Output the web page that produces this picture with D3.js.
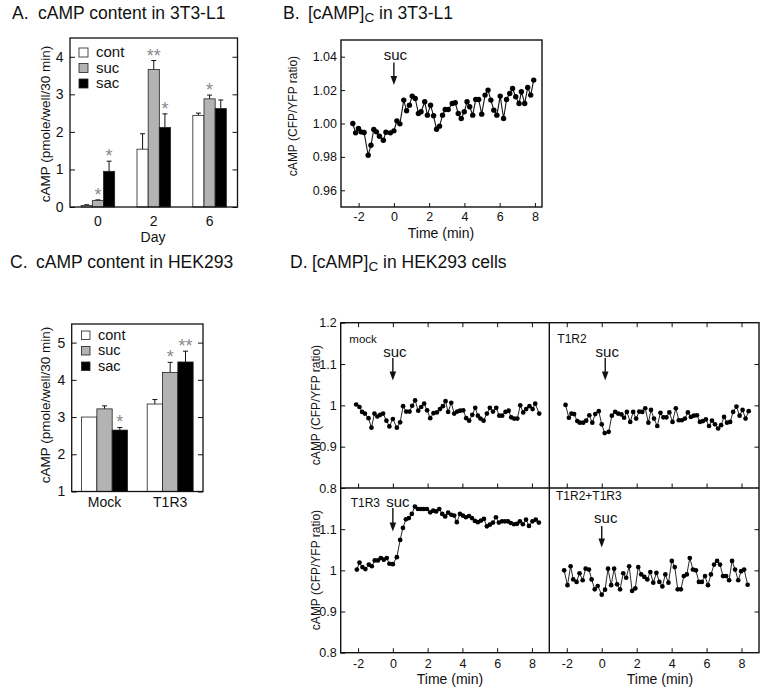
<!DOCTYPE html>
<html><head><meta charset="utf-8">
<script src="https://cdn.jsdelivr.net/npm/d3@7"></script>
<style>
body{margin:0;background:#fff}
text{font-family:"Liberation Sans",Arial,Helvetica,sans-serif;fill:#111}
</style>
</head><body>
<svg id="c" width="763" height="692"></svg>
<script>
// ---------------- DATA ----------------
const seriesNames = ["cont","suc","sac"];
const seriesColors = ["#ffffff","#b3b3b3","#000000"];

// Panel A (3T3-L1 cAMP content)
const daysA = ["0","2","6"];
const contA = [0.04, 1.54, 2.44];
const sucA  = [0.17, 3.66, 2.88];
const sacA  = [0.95, 2.12, 2.62];
const contAErr = [0.02, 0.41, 0.06];
const sucAErr  = [0.02, 0.24, 0.10];
const sacAErr  = [0.27, 0.36, 0.23];
const sucAStars = ["*","**","*"];
const sacAStars = ["*","*",""];
const contAStars = ["","",""];
const yTicksA = [0,1,2,3,4];

// Panel C (HEK293 cAMP content)
const groupsC = ["Mock","T1R3"];
const contC = [3.00, 3.35];
const sucC  = [3.22, 4.20];
const sacC  = [2.65, 4.48];
const contCErr = [0.0, 0.12];
const sucCErr  = [0.08, 0.27];
const sacCErr  = [0.07, 0.29];
const contCStars = ["",""];
const sucCStars  = ["","*"];
const sacCStars  = ["*","**"];
const yTicksC = [1,2,3,4,5];

// Panel B (3T3-L1 time course)
const bTime = [-2.33,-2.17,-2.01,-1.86,-1.69,-1.46,-1.30,-1.14,-0.99,-0.82,-0.60,-0.45,-0.20,0.00,0.17,0.34,0.56,0.72,0.88,1.04,1.21,1.39,1.54,1.75,1.90,2.08,2.25,2.42,2.59,2.76,2.91,3.08,3.31,3.48,3.65,3.82,3.99,4.15,4.30,4.47,4.64,4.81,4.98,5.17,5.34,5.50,5.67,5.84,6.03,6.22,6.39,6.57,6.73,6.91,7.10,7.23,7.42,7.59,7.76,7.93];
const bRatio = [1.000,0.9944,0.997,0.995,0.9946,0.981,0.987,0.9964,0.995,0.9924,0.990,0.9948,0.9944,0.9956,1.0016,0.9998,1.014,1.0076,1.011,1.0164,1.015,1.006,1.007,1.013,1.005,1.011,1.0046,0.9966,0.9984,1.005,1.0084,1.0084,1.012,1.0124,1.006,1.003,1.007,1.013,1.010,1.005,1.0144,1.0144,1.0056,1.017,1.020,1.014,1.008,1.005,1.0164,1.003,1.0144,1.018,1.021,1.016,1.012,1.019,1.012,1.0216,1.017,1.026];
const xTicksB = [-2,0,2,4,6,8];
const yTicksB = [0.96,0.98,1.00,1.02,1.04];

// Panel D (HEK293 time courses)
const mockTime = [-2.11,-1.92,-1.77,-1.61,-1.40,-1.23,-1.06,-0.89,-0.73,-0.56,-0.37,-0.20,0,0.23,0.42,0.59,0.77,0.96,1.11,1.28,1.46,1.63,1.80,1.97,2.15,2.34,2.53,2.71,2.88,3.03,3.18,3.36,3.53,3.70,3.87,4.05,4.22,4.39,4.57,4.74,4.89,5.04,5.22,5.41,5.58,5.76,5.95,6.12,6.29,6.48,6.66,6.81,6.98,7.16,7.33,7.50,7.67,7.86,8.04,8.19,8.42];
const mockRatio = [1.002,0.996,0.984,0.980,0.969,0.946,0.980,0.973,0.977,0.980,0.963,0.949,0.967,0.946,0.959,0.998,0.985,0.985,0.999,1.012,0.987,0.996,1.004,0.988,0.969,0.981,0.983,0.991,0.998,1.010,0.984,1.006,0.980,0.985,0.987,0.988,0.969,0.963,0.977,0.994,0.975,0.968,0.963,0.980,0.994,0.985,0.994,0.975,0.975,0.984,0.987,0.971,0.968,0.968,1.000,0.983,0.991,0.998,0.991,1.004,0.980];
const t1r2Time = [-2.07,-1.88,-1.73,-1.58,-1.40,-1.25,-1.06,-0.89,-0.71,-0.54,-0.37,-0.17,0,0.17,0.40,0.58,0.77,0.94,1.13,1.28,1.44,1.63,1.80,1.97,2.15,2.32,2.49,2.67,2.82,2.99,3.18,3.36,3.53,3.70,3.87,4.05,4.24,4.41,4.58,4.76,4.93,5.10,5.27,5.45,5.62,5.79,5.96,6.14,6.31,6.48,6.66,6.83,7.00,7.17,7.35,7.52,7.71,7.89,8.06,8.23,8.41];
const t1r2Ratio = [1.001,0.970,0.980,0.979,0.962,0.958,0.958,0.963,0.976,0.958,0.979,0.986,0.954,0.933,0.936,0.975,0.984,0.980,0.978,0.970,0.984,0.960,0.984,0.968,0.985,0.984,0.993,0.958,0.989,0.968,0.950,0.982,0.971,0.971,0.983,0.960,0.993,0.964,0.964,0.968,0.983,0.972,0.975,0.976,0.960,0.962,0.966,0.950,0.963,0.954,0.944,0.952,0.972,0.958,0.960,0.984,0.997,0.975,0.989,0.968,0.986];
const t1r3Time = [-2.07,-1.92,-1.75,-1.58,-1.38,-1.21,-1.04,-0.86,-0.69,-0.52,-0.35,-0.20,0,0.23,0.42,0.58,0.75,0.92,1.09,1.27,1.44,1.61,1.78,1.96,2.15,2.32,2.49,2.67,2.84,3.01,3.18,3.36,3.53,3.68,3.86,4.03,4.20,4.38,4.55,4.72,4.89,5.07,5.24,5.41,5.58,5.76,5.93,6.10,6.28,6.45,6.62,6.79,6.97,7.14,7.31,7.48,7.66,7.83,8.03,8.22,8.40];
const t1r3Ratio = [1.002,1.019,1.008,1.003,1.014,1.010,1.024,1.024,1.030,1.026,1.030,1.016,1.015,1.032,1.074,1.103,1.124,1.127,1.137,1.155,1.149,1.149,1.149,1.149,1.141,1.145,1.143,1.149,1.137,1.131,1.140,1.135,1.133,1.117,1.137,1.133,1.129,1.132,1.127,1.120,1.117,1.121,1.125,1.107,1.111,1.116,1.129,1.116,1.119,1.119,1.119,1.115,1.112,1.113,1.119,1.112,1.123,1.108,1.119,1.123,1.116];
const bothTime = [-2.15,-1.96,-1.78,-1.63,-1.44,-1.27,-1.09,-0.92,-0.73,-0.58,-0.40,-0.23,0,0.19,0.36,0.54,0.71,0.88,1.05,1.23,1.40,1.57,1.74,1.92,2.09,2.26,2.44,2.61,2.78,2.95,3.13,3.30,3.47,3.64,3.82,4.01,4.18,4.35,4.53,4.70,4.87,5.04,5.22,5.39,5.56,5.73,5.91,6.08,6.25,6.43,6.60,6.77,6.94,7.12,7.29,7.46,7.63,7.81,7.98,8.15,8.35];
const bothRatio = [1.000,0.964,1.010,0.978,0.972,0.993,0.976,1.004,1.002,0.978,0.954,0.962,0.941,0.953,1.004,0.964,1.004,0.966,0.954,0.993,0.982,1.010,0.950,0.956,1.008,0.990,0.984,0.978,0.996,0.970,0.994,0.972,0.961,0.990,0.970,1.023,1.008,0.954,0.954,0.986,0.990,1.030,1.002,1.000,0.972,0.972,0.986,0.964,0.990,1.014,1.023,1.014,0.986,0.986,0.976,1.023,1.002,0.976,0.998,1.002,0.965];
const xTicksD = [-2,0,2,4,6,8];
const yTicksD = [0.8,0.9,1,1.1,1.2];
const yTicksDLower = [0.9,1,1.1];

// ---------------- DRAWING ----------------
const svg = d3.select("#c");
svg.append("rect").attr("width",763).attr("height",692).attr("fill","#fff");
const FONT = '"Liberation Sans",Arial,Helvetica,sans-serif';

function styleAxis(g, fs){
  g.select(".domain").remove();
  g.selectAll("line").attr("stroke","#111").attr("stroke-width",1);
  g.selectAll("text").attr("font-size",fs).attr("font-family",FONT).attr("fill","#111");
}
function frame(x0,y0,x1,y1,sw){
  svg.append("rect").attr("x",x0).attr("y",y0).attr("width",x1-x0).attr("height",y1-y0)
    .attr("fill","none").attr("stroke","#111").attr("stroke-width",sw);
}
function arrow(x,yTop,yBot){
  svg.append("line").attr("x1",x).attr("x2",x).attr("y1",yTop).attr("y2",yBot-7)
    .attr("stroke","#111").attr("stroke-width",1.4);
  svg.append("path").attr("d",`M${x-3.3},${yBot-9}L${x+3.3},${yBot-9}L${x},${yBot}Z`).attr("fill","#111");
}
function label(x,y,str,fs,anchor){
  return svg.append("text").attr("x",x).attr("y",y).attr("font-size",fs)
    .attr("text-anchor",anchor||"start").text(str);
}
function vlabel(x,y,str,fs){
  svg.append("text").attr("transform",`translate(${x},${y}) rotate(-90)`)
    .attr("text-anchor","middle").attr("dominant-baseline","central")
    .attr("font-size",fs).text(str);
}

// ---- bar panel helper ----
function barPanel(cfg){
  const {x0,x1,y0,y1,groups,vals,errs,stars,yDom,yTicks,pi,po,legendY,legendX,legendSq,legendFs,xLabelPad} = cfg;
  const x = d3.scaleBand().domain(groups).range([x0,x1]).paddingInner(pi).paddingOuter(po);
  const xs = d3.scaleBand().domain(seriesNames).range([0,x.bandwidth()]);
  const y = d3.scaleLinear().domain(yDom).range([y1,y0]);
  seriesNames.forEach((s,si)=>{
    groups.forEach((gname,gi)=>{
      const v = vals[si][gi], e = errs[si][gi];
      const bx = x(gname)+xs(s), bw = xs.bandwidth(), cx = bx+bw/2;
      if(e>0){
        svg.append("line").attr("x1",cx).attr("x2",cx).attr("y1",y(v)).attr("y2",y(v+e))
          .attr("stroke","#111").attr("stroke-width",1);
        svg.append("line").attr("x1",cx-2.5).attr("x2",cx+2.5).attr("y1",y(v+e)).attr("y2",y(v+e))
          .attr("stroke","#111").attr("stroke-width",1);
      }
      svg.append("rect").attr("x",bx).attr("y",y(v)).attr("width",bw).attr("height",y(yDom[0])-y(v))
        .attr("fill",seriesColors[si]).attr("stroke","#222").attr("stroke-width",0.8);
      const st = stars[si][gi];
      if(st){
        svg.append("text").attr("x",cx).attr("y",y(v+e)+1).attr("text-anchor","middle")
          .attr("font-size",18).style("fill","#8a8a8a").text(st);
      }
    });
  });
  const gl = svg.append("g").attr("transform",`translate(${x0},0)`)
    .call(d3.axisLeft(y).tickValues(yTicks).tickSize(-5).tickPadding(6.5).tickFormat(d3.format("d")));
  styleAxis(gl,14);
  const gr = svg.append("g").attr("transform",`translate(${x1},0)`)
    .call(d3.axisRight(y).tickValues(yTicks).tickSize(-5).tickFormat(""));
  styleAxis(gr,14);
  const gb = svg.append("g").attr("transform",`translate(0,${y1})`)
    .call(d3.axisBottom(x).tickSize(0).tickPadding(xLabelPad));
  styleAxis(gb,14);
  frame(x0,y0,x1,y1,1.3);
  // legend
  seriesNames.forEach((s,si)=>{
    const ly = legendY[si];
    svg.append("rect").attr("x",legendX).attr("y",ly-legendSq).attr("width",legendSq).attr("height",legendSq)
      .attr("fill",seriesColors[si]).attr("stroke","#222").attr("stroke-width",0.8);
    label(legendX+legendSq+8, ly, s, legendFs);
  });
  return {x,y};
}

// Panel A
barPanel({x0:70,x1:237.5,y0:38,y1:207,groups:daysA,
  vals:[contA,sucA,sacA],errs:[contAErr,sucAErr,sacAErr],stars:[contAStars,sucAStars,sacAStars],
  yDom:[0,4.5],yTicks:yTicksA,pi:0.4,po:0.2,legendX:79,legendY:[57,72.5,88],legendSq:9,legendFs:15,xLabelPad:9.5});
label(153,242,"Day",14,"middle");
vlabel(45,124,"cAMP (pmole/well/30 min)",13.5);

// Panel C
barPanel({x0:71.7,x1:203,y0:324,y1:491.5,groups:groupsC,
  vals:[contC,sucC,sacC],errs:[contCErr,sucCErr,sacCErr],stars:[contCStars,sucCStars,sacCStars],
  yDom:[1,5.5],yTicks:yTicksC,pi:0.3,po:0.15,legendX:81.5,legendY:[339.5,355,370.5],legendSq:8.5,legendFs:14.5,xLabelPad:6});
vlabel(45,405,"cAMP (pmole/well/30 min)",13.5);

// Titles
function title(x,y,letter,parts,gap){
  const t = svg.append("text").attr("x",x).attr("y",y).attr("font-size",17.5);
  t.append("tspan").text(letter);
  const t2 = svg.append("text").attr("x",x+gap).attr("y",y).attr("font-size",17.5);
  parts.forEach(p=>{
    const ts = t2.append("tspan").text(p.s);
    if(p.sub){ ts.attr("font-size",13.5).attr("dy",3); }
    if(p.up){ ts.attr("dy",-3); }
  });
}
title(12,18.5,"A.",[{s:"cAMP content in 3T3-L1"}],26);
title(283,18.5,"B.",[{s:"[cAMP]"},{s:"C",sub:true},{s:" in 3T3-L1",up:true}],25);
title(10,268,"C.",[{s:"cAMP content in HEK293"}],26);
title(290,268,"D.",[{s:"[cAMP]"},{s:"C",sub:true},{s:" in HEK293 cells",up:true}],22);

// Panel B
{
  const x = d3.scaleLinear().domain([-3,8.4]).range([341,542]);
  const y = d3.scaleLinear().domain([0.95,1.05]).range([207,40]);
  const gl = svg.append("g").attr("transform","translate(341,0)")
    .call(d3.axisLeft(y).tickValues(yTicksB).tickSize(-4).tickPadding(4).tickFormat(d3.format(".2f")));
  styleAxis(gl,12.5);
  const gb = svg.append("g").attr("transform","translate(0,207)")
    .call(d3.axisBottom(x).tickValues(xTicksB).tickSize(-4).tickPadding(5).tickFormat(d=>String(d)));
  styleAxis(gb,12.5);
  frame(341,40,542,207,1.4);
  const pts = bTime.map((t,i)=>[t,bRatio[i]]);
  svg.append("path").attr("d",d3.line().x(d=>x(d[0])).y(d=>y(d[1]))(pts))
    .attr("fill","none").attr("stroke","#111").attr("stroke-width",1.1);
  svg.append("g").selectAll("circle").data(pts).join("circle")
    .attr("cx",d=>x(d[0])).attr("cy",d=>y(d[1])).attr("r",2.7).attr("fill","#000");
  label(x(0)+1.5,60,"suc",15,"middle");
  arrow(x(0),62.5,85);
  label(441,237.5,"Time (min)",14,"middle");
  vlabel(293,116,"cAMP (CFP/YFP ratio)",12);
}

// Panel D
function dPanel(cfg){
  const {x0,x1,y0,y1,T,V,top,left} = cfg;
  const x = d3.scaleLinear().domain([-3,9]).range([x0,x1]);
  const y = d3.scaleLinear().domain([0.8,1.2]).range([y1,y0]);
  const gb = svg.append("g").attr("transform",`translate(0,${y1})`)
    .call(d3.axisBottom(x).tickValues(xTicksD).tickSize(-4.5).tickPadding(6.5).tickFormat(top?"":(d=>String(d))));
  styleAxis(gb,12.5);
  if(top){
    const gt = svg.append("g").attr("transform",`translate(0,${y0})`)
      .call(d3.axisTop(x).tickValues(xTicksD).tickSize(-4.5).tickFormat(""));
    styleAxis(gt,12.5);
  }
  if(left){
    const gl = svg.append("g").attr("transform",`translate(${x0},0)`)
      .call(d3.axisLeft(y).tickValues(top?yTicksD:yTicksDLower.concat([0.8])).tickSize(-4.5).tickPadding(4).tickFormat(d=>String(d)));
    styleAxis(gl,12.5);
  } else {
    const gr = svg.append("g").attr("transform",`translate(${x1},0)`)
      .call(d3.axisRight(y).tickValues(yTicksDLower).tickSize(-4.5).tickFormat(""));
    styleAxis(gr,12.5);
  }
  const pts = T.map((t,i)=>[t,V[i]]);
  svg.append("path").attr("d",d3.line().x(d=>x(d[0])).y(d=>y(d[1]))(pts))
    .attr("fill","none").attr("stroke","#111").attr("stroke-width",0.9);
  svg.append("g").selectAll("circle").data(pts).join("circle")
    .attr("cx",d=>x(d[0])).attr("cy",d=>y(d[1])).attr("r",2.35).attr("fill","#000");
  return {x,y};
}
const DL=340.7, DM=549.3, DR=759, DT=322.7, DMid=488, DB=652.7;
const pMock = dPanel({x0:DL,x1:DM,y0:DT,y1:DMid,T:mockTime,V:mockRatio,top:true,left:true});
const pT2 = dPanel({x0:DM,x1:DR,y0:DT,y1:DMid,T:t1r2Time,V:t1r2Ratio,top:true,left:false});
const pT3 = dPanel({x0:DL,x1:DM,y0:DMid,y1:DB,T:t1r3Time,V:t1r3Ratio,top:false,left:true});
const pB = dPanel({x0:DM,x1:DR,y0:DMid,y1:DB,T:bothTime,V:bothRatio,top:false,left:false});
svg.append("line").attr("x1",DL).attr("x2",DR).attr("y1",DMid).attr("y2",DMid).attr("stroke","#111").attr("stroke-width",1.4);
svg.append("line").attr("x1",DM).attr("x2",DM).attr("y1",DT).attr("y2",DB).attr("stroke","#111").attr("stroke-width",1.4);
frame(DL,DT,DR,DB,1.4);

label(349.3,343.3,"mock",11.5);
label(557.3,343.3,"T1R2",12);
label(350.7,507,"T1R3",12);
label(556,500,"T1R2+T1R3",12);
label(pMock.x(0)+2,356.7,"suc",15,"middle"); arrow(pMock.x(0),358,380.5);
label(pT2.x(0.2)+2,356.7,"suc",15,"middle"); arrow(pT2.x(0.2),358,380.5);
label(pT3.x(0)+5,506.7,"suc",15,"middle"); arrow(pT3.x(0),508,531.5);
label(pB.x(0)+4,523.3,"suc",15,"middle"); arrow(pB.x(0),526,547.5);

vlabel(316,405,"cAMP (CFP/YFP ratio)",12);
vlabel(316,570,"cAMP (CFP/YFP ratio)",12);
label(450,684,"Time (min)",14,"middle");
label(660,684,"Time (min)",14,"middle");
</script>
</body></html>
